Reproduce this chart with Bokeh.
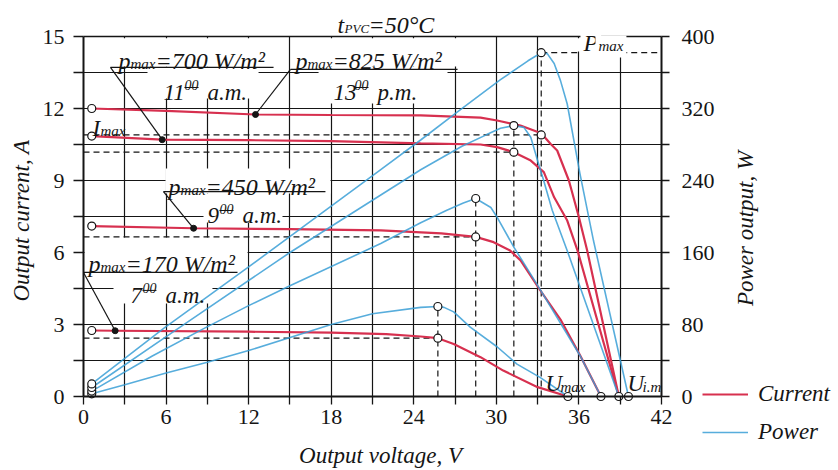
import math
from bokeh.plotting import figure
from bokeh.models import Range1d, LinearAxis, FixedTicker, Label, Legend, LegendItem
from bokeh.embed import file_html
from bokeh.resources import INLINE

# ---------------- data ----------------
irradiance = [170, 450, 700, 825]          # W/m2
hours = ["7", "9", "11", "13"]
ampm = ["a.m.", "a.m.", "a.m.", "p.m."]

# current curves  (V, A)
cur170_v = [0.6, 2.3, 12, 18, 22, 24.5, 25.75, 26.9, 28.85, 30.5, 33.0, 35.2]
cur170_a = [2.75, 2.74, 2.70, 2.66, 2.60, 2.50, 2.43, 2.19, 1.64, 1.08, 0.39, 0.0]
cur450_v = [0.6, 8.0, 15, 21.6, 26, 28.5, 29.8, 31.0, 31.76, 33.1, 34.7, 36.1, 37.6]
cur450_a = [7.10, 7.01, 6.97, 6.92, 6.80, 6.65, 6.43, 6.08, 5.67, 4.50, 3.17, 1.70, 0.0]
cur700_v = [0.6, 5.72, 12, 18, 24.5, 28.85, 30.06, 31.27, 32.5, 33.45, 34.2, 35.15, 35.9, 38.9]
cur700_a = [10.85, 10.70, 10.68, 10.64, 10.55, 10.50, 10.39, 10.18, 9.83, 9.35, 8.30, 7.33, 6.08, 0.0]
cur825_v = [0.6, 6, 12.5, 18, 24.5, 28.85, 30.06, 31.75, 33.26, 33.93, 34.42, 35.27, 36.0, 36.6, 38.9]
cur825_a = [12.0, 11.9, 11.75, 11.73, 11.71, 11.62, 11.50, 11.29, 10.97, 10.53, 10.25, 9.0, 7.47, 6.08, 0.0]

# power curves  (V, W)
pow170_v = [0.6, 3, 6, 9, 12, 18, 21, 24.5, 25.75, 26.2, 26.9, 28.1, 30.07, 31.5, 33.2, 35.2]
pow170_w = [3, 13, 26, 38, 51, 80, 92, 99, 100, 99, 94, 77, 55, 36, 21, 0]
pow450_v = [0.6, 5, 8.8, 12, 15, 21.6, 24.5, 26.4, 27.6, 28.5, 29.6, 30.06, 31.27, 33.1, 36.1, 37.6]
pow450_w = [6, 45, 76, 101, 123, 170, 193, 207, 215, 220, 210, 199, 166, 121, 45, 0]
pow700_v = [0.6, 7.1, 15, 24.5, 27.5, 29.3, 30.3, 31.27, 32.0, 32.5, 33.0, 33.4, 34.06, 35.15, 38.9]
pow700_w = [10, 78, 160, 252, 278, 291, 298, 301, 299, 288, 262, 242, 207, 162, 0]
pow825_v = [0.6, 5.85, 12, 21.6, 24.5, 27.15, 30.3, 32.3, 33.26, 33.7, 34.2, 34.66, 35.15, 36.07, 37.06, 39.6]
pow825_w = [14, 76, 144, 252, 285, 316, 352, 373, 382, 381, 370, 351, 325, 248, 173, 0]

# characteristic points
start_v = [0.6, 0.6, 0.6, 0.6]
isc_a = [2.75, 7.10, 10.85, 12.0]
pstart_w = [3, 6, 10, 14]
mpp_v = [25.75, 28.5, 31.27, 33.26]
mpp_a = [2.43, 6.65, 10.18, 10.9]
mpp_w = [100, 220, 301, 382]
end_v = [35.2, 37.6, 38.9, 39.6]
end_a = [0, 0, 0, 0]
dot_v = [2.3, 8.0, 5.72, 12.5]
dot_a = [2.74, 7.01, 10.70, 11.75]

x_major = [0, 6, 12, 18, 24, 30, 36, 42]
x_minor = [3, 9, 15, 21, 27, 33, 39]
y_major = [0, 3, 6, 9, 12, 15]
y_minor = [1.5, 4.5, 7.5, 10.5, 13.5]
p_major = [0, 80, 160, 240, 320, 400]
p_minor = [40, 120, 200, 280, 360]

X_LIM = (0, 42)
I_LIM = (0, 15)
P_LIM = (0, 400)

# ---------------- styling ----------------
RED = "#d7304f"
BLUE = "#3a9fd6"
INK = "#151515"
SERIF = "Liberation Serif"

W, H = 836, 468
PX_PER_V = 13.762
PX_PER_A = 24.0
X0_PX, Y0_PX = 83, 396          # where V=0 / I=0 sit on the page
PW_PER_A = P_LIM[1] / I_LIM[1]

x_rng = Range1d(-X0_PX / PX_PER_V, (W - X0_PX) / PX_PER_V)
y_rng = Range1d(-(H - Y0_PX) / PX_PER_A, Y0_PX / PX_PER_A)

p = figure(width=W, height=H, x_range=x_rng, y_range=y_rng,
           output_backend="svg", toolbar_location=None, x_axis_location=None,
           y_axis_location=None, min_border=0)
p.extra_y_ranges = {"pw": Range1d(y_rng.start * PW_PER_A, y_rng.end * PW_PER_A)}
p.outline_line_color = None


def style_axis(ax, tick_out, standoff):
    ax.major_tick_out = tick_out
    ax.minor_tick_out = tick_out
    ax.major_tick_in = 0
    ax.minor_tick_in = 0
    ax.major_tick_line_color = INK
    ax.minor_tick_line_color = INK
    ax.major_tick_line_width = 1.3
    ax.minor_tick_line_width = 1.3
    ax.axis_line_color = INK
    ax.axis_line_width = 2
    ax.major_label_standoff = standoff
    ax.major_label_text_font = SERIF
    ax.major_label_text_font_size = "22px"
    ax.major_label_text_color = INK


xax = LinearAxis(ticker=FixedTicker(ticks=x_major, minor_ticks=x_minor),
                 fixed_location=I_LIM[0], bounds=X_LIM)
style_axis(xax, 8, 5)
p.add_layout(xax, "below")
yax = LinearAxis(ticker=FixedTicker(ticks=y_major, minor_ticks=y_minor),
                 fixed_location=X_LIM[0], bounds=I_LIM)
style_axis(yax, 10, 9)
p.add_layout(yax, "left")
rax = LinearAxis(y_range_name="pw", ticker=FixedTicker(ticks=p_major, minor_ticks=p_minor),
                 fixed_location=X_LIM[1], bounds=P_LIM)
style_axis(rax, 8, 12)
p.add_layout(rax, "right")
tax = LinearAxis(ticker=FixedTicker(ticks=[]), fixed_location=I_LIM[1], bounds=X_LIM)
tax.axis_line_color = INK
tax.axis_line_width = 1.5
tax.major_label_text_font_size = "0px"
p.add_layout(tax, "above")

p.xgrid.ticker = FixedTicker(ticks=x_minor + x_major[1:-1])
p.ygrid.ticker = FixedTicker(ticks=y_minor + y_major[1:-1])
p.xgrid.cross_bounds = I_LIM
p.ygrid.cross_bounds = X_LIM
for g in (p.xgrid[0], p.ygrid[0]):
    g.grid_line_color = INK
    g.grid_line_width = 1.2

# white areas behind the annotation texts (hide grid there)
MASKS = [
    (1.96, 13.95, 13.75, 14.93), (4.65, 12.72, 12.42, 13.75),
    (15.26, 27.39, 13.75, 14.93), (17.08, 26.45, 12.21, 13.75),
    (5.96, 17.95, 8.46, 9.5), (8.72, 14.46, 7.25, 8.46),
    (0.07, 11.92, 5.25, 6.63), (2.18, 9.37, 3.875, 5.25),
    (33.4, 41.93, 14.375, 14.93),
]
p.quad(left=[m[0] for m in MASKS], right=[m[1] for m in MASKS],
       bottom=[m[2] for m in MASKS], top=[m[3] for m in MASKS],
       fill_color="white", line_color=None)

# dashed guide lines
DASH = dict(line_color=INK, line_width=1.2, line_dash="6 4")
p.segment(x0=[0] * 4, y0=mpp_a, x1=mpp_v, y1=mpp_a, **DASH)
p.segment(x0=mpp_v, y0=[0] * 4, x1=mpp_v, y1=mpp_w, y_range_name="pw", **DASH)
p.segment(x0=[mpp_v[3]], y0=[mpp_w[3]], x1=[X_LIM[1]], y1=[mpp_w[3]], y_range_name="pw", **DASH)

# curves
red_r = None
for vv, aa in [(cur170_v, cur170_a), (cur450_v, cur450_a), (cur700_v, cur700_a), (cur825_v, cur825_a)]:
    red_r = p.line(vv, aa, line_color=RED, line_width=2.2)
blue_r = None
for vv, ww in [(pow170_v, pow170_w), (pow450_v, pow450_w), (pow700_v, pow700_w), (pow825_v, pow825_w)]:
    blue_r = p.line(vv, ww, line_color=BLUE, line_width=1.6, line_alpha=0.85, y_range_name="pw")

# leader lines and underlines of the annotation texts
LEAD = dict(line_color=INK, line_width=1.2)
UNDER = [(0.0, 11.19, 5.17), (5.81, 17.58, 8.54), (1.96, 13.81, 13.71), (15.04, 27.18, 13.63)]
p.segment(x0=[u[0] for u in UNDER], y0=[u[2] for u in UNDER],
          x1=[u[1] for u in UNDER], y1=[u[2] for u in UNDER], **LEAD)
p.segment(x0=[u[0] for u in UNDER], y0=[u[2] for u in UNDER], x1=dot_v, y1=dot_a, **LEAD)
SUPU = [(4.29, 5.30, 4.42), (9.88, 10.90, 7.75), (7.34, 8.36, 12.875), (19.69, 20.71, 12.875)]
p.segment(x0=[u[0] for u in SUPU], y0=[u[2] for u in SUPU],
          x1=[u[1] for u in SUPU], y1=[u[2] for u in SUPU], line_color=INK, line_width=1)

# markers
OPEN = dict(size=8, fill_color="white", line_color=INK, line_width=1.2)
p.scatter(start_v, isc_a, **OPEN)
p.scatter(start_v, pstart_w, y_range_name="pw", **OPEN)
p.scatter(mpp_v, mpp_a, **OPEN)
p.scatter(mpp_v, mpp_w, y_range_name="pw", **OPEN)
p.scatter(end_v, end_a, **OPEN)
p.scatter(dot_v, dot_a, size=6, fill_color=INK, line_color=INK)


def txt(x, y, s, size=23, dx=0, dy=0, style="italic", align="left",
        baseline="alphabetic", angle=0, bg=None):
    lab = Label(x=x, y=y, text=s, x_offset=dx, y_offset=dy, text_font=SERIF,
                text_font_style=style, text_font_size=f"{size}px", text_align=align,
                text_baseline=baseline, angle=angle, text_color=INK)
    if bg:
        lab.background_fill_color = bg
        lab.padding = 3
    p.add_layout(lab)


def pmax_label(x, y, value):
    txt(x, y, "p", 24)
    txt(x, y, "max", 15, dx=12, dy=-3)
    txt(x, y, f"={value} W/m²", 24, dx=37)


def hour_label(x, y, h, suffix, sup_dx):
    txt(x, y, h)
    txt(x, y, "00", 14, dx=sup_dx, dy=7)
    txt(x, y, suffix, dx=sup_dx + 23)


ANCH = [(0.36, 5.54), (6.18, 8.71), (2.54, 13.96), (15.40, 13.96)]
HANCH = [(3.42, 4.21, 12), (9.01, 7.54, 12), (5.81, 12.67, 21), (18.17, 12.67, 21)]
for k in range(4):
    pmax_label(ANCH[k][0], ANCH[k][1], irradiance[k])
    hour_label(HANCH[k][0], HANCH[k][1], hours[k], ampm[k], HANCH[k][2])

# title
txt(18.46, 15.46, "t", 24)
txt(18.46, 15.46, "PVC", 13, dx=7, dy=-3)
txt(18.46, 15.46, "=50°C", 24, dx=31)

# point names
txt(0.65, 11.17, "I")
txt(0.65, 11.17, "max", 15, dx=8, dy=-3)
txt(36.11, 14.71, "P", 24, bg="white")
txt(36.11, 14.71, "max", 15, dx=15, dy=-3, bg="white")
txt(33.57, 0.54, "U")
txt(33.57, 0.54, "max", 15, dx=15, dy=-3)
txt(39.53, 0.54, "U")
txt(39.53, 0.54, "i.m", 15, dx=15, dy=-3)

# axis titles
txt(-4.5, 7.33, "Output current, A", align="center", baseline="middle", angle=math.pi / 2)
txt(48.1, 7.0, "Power output, W", align="center", baseline="middle", angle=math.pi / 2)
txt(21.58, -2.46, "Output voltage, V", align="center", baseline="middle")

legend = Legend(items=[LegendItem(label="Current", renderers=[red_r]),
                       LegendItem(label="Power", renderers=[blue_r])],
                location=(702, H - 445), orientation="vertical", glyph_width=46, glyph_height=26,
                label_height=26, label_standoff=10, spacing=12, padding=0, margin=0,
                border_line_color=None, background_fill_alpha=0,
                label_text_font=SERIF, label_text_font_style="italic",
                label_text_font_size="23px", label_text_color=INK)
p.add_layout(legend)

open("out.html", "w").write(file_html(p, INLINE))
